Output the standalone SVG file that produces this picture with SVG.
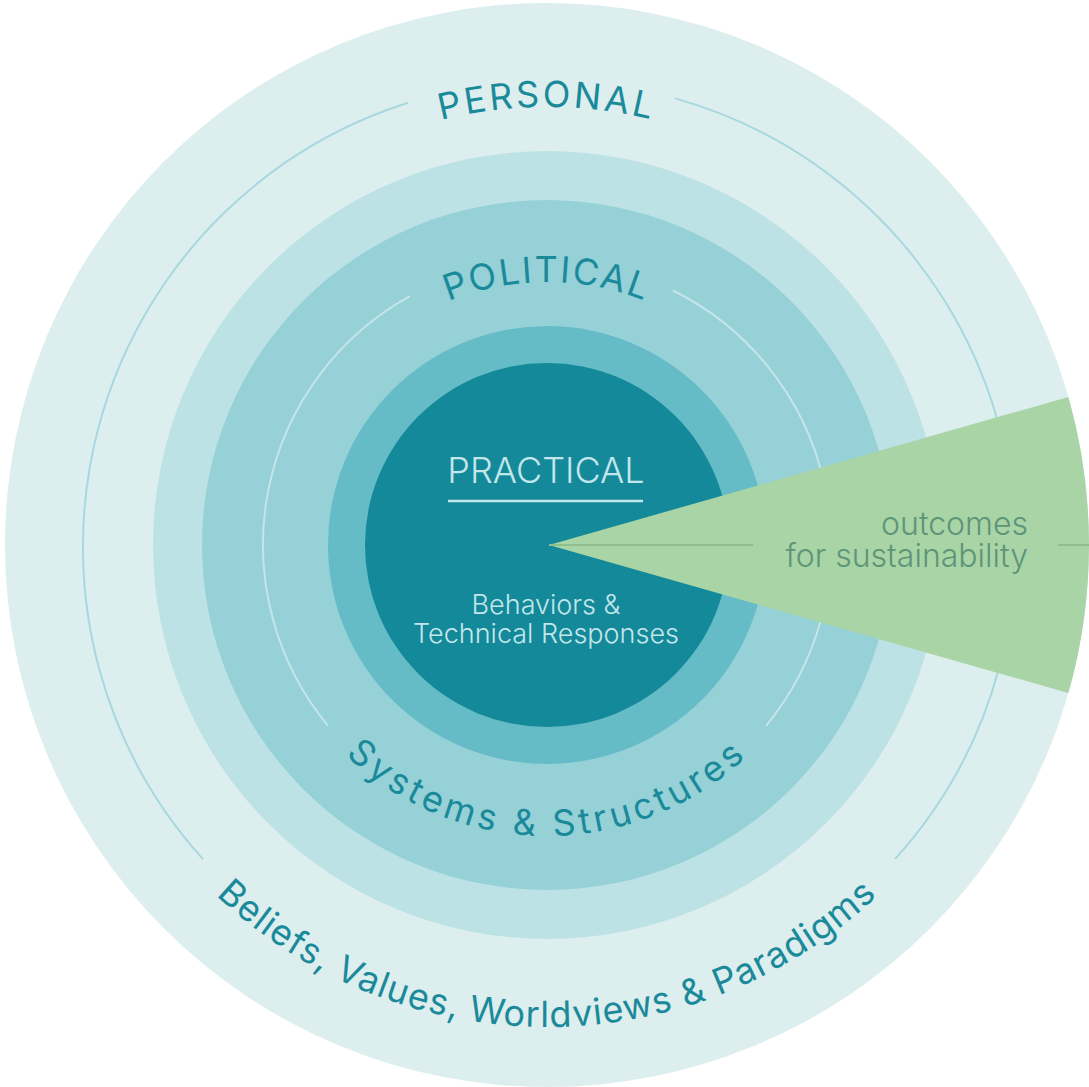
<svg xmlns="http://www.w3.org/2000/svg" width="1089" height="1087" viewBox="0 0 1089 1087">
  <style>
    .ring-label { font-family: Inter, "Liberation Sans", sans-serif; font-size: 36px; fill: #1a8a9b; }
    .light { font-family: Inter, "Liberation Sans", sans-serif; font-weight: 300; fill: #c3e6ea; }
    .outcome { font-family: Inter, "Liberation Sans", sans-serif; font-size: 32px; font-weight: 300; fill: #5e9479; }
    .guide-outer { fill: none; stroke: #a8d8df; stroke-width: 2; }
    .guide-inner { fill: none; stroke: #c4e5e9; stroke-width: 2; }
  </style>
  <defs>
    <path id="arc-personal" d="M109,545 A438,438 0 0 1 985,545"/>
    <path id="arc-political" d="M284,545 A263,263 0 0 1 810,545"/>
    <path id="arc-systems" d="M256,545 A291,291 0 0 0 838,545"/>
    <path id="arc-beliefs" d="M65,545 A482,482 0 0 0 1029,545"/>
  </defs>
  <rect width="1089" height="1087" fill="#ffffff"/>

  <g id="personal">
    <circle cx="547" cy="545" r="542" fill="#ddeeee"/>
  </g>
  <g id="political-outer">
    <circle cx="547" cy="545" r="394" fill="#bde2e6"/>
  </g>
  <g id="political">
    <circle cx="547" cy="545" r="345" fill="#95d1d7"/>
  </g>
  <g id="systems">
    <circle cx="547" cy="545" r="219" fill="#65bcc6"/>
  </g>
  <g id="practical">
    <circle cx="547" cy="545" r="182" fill="#14899a"/>
  </g>

  <g id="connectors">
    <path class="guide-outer" d="M408,102.8 A466,466 0 0 0 203,859.2"/>
    <path class="guide-outer" d="M675,98.4 A466,466 0 0 1 895,859.2"/>
    <path class="guide-inner" d="M410,296.2 A284,284 0 0 0 328,725.8"/>
    <path class="guide-inner" d="M673,290.5 A284,284 0 0 1 766,725.8"/>
  </g>

  <g id="outcomes">
    <path d="M549,545 L1068.4,397 A542,542 0 0 1 1068.4,693 Z" fill="#a8d4a6"/>
    <line x1="549" y1="545" x2="753" y2="545" stroke="#8fbf8d" stroke-width="2"/>
    <line x1="1058" y1="545" x2="1089" y2="545" stroke="#8fbf8d" stroke-width="2"/>
    <text class="outcome" x="1028" y="535" text-anchor="end">outcomes</text>
    <text class="outcome" x="1028" y="567" text-anchor="end">for sustainability</text>
  </g>

  <g id="labels">
    <text class="ring-label" letter-spacing="3"><textPath href="#arc-personal" startOffset="50%" text-anchor="middle">PERSONAL</textPath></text>
    <text class="ring-label" letter-spacing="2"><textPath href="#arc-political" startOffset="50%" text-anchor="middle">POLITICAL</textPath></text>
    <text class="ring-label" letter-spacing="4"><textPath href="#arc-systems" startOffset="50%" text-anchor="middle">Systems &amp; Structures</textPath></text>
    <text class="ring-label" font-size="40" letter-spacing="1"><textPath href="#arc-beliefs" startOffset="50%" text-anchor="middle">Beliefs, Values, Worldviews &amp; Paradigms</textPath></text>
    <text class="light" x="546" y="483" font-size="36" text-anchor="middle">PRACTICAL</text>
    <line x1="448" y1="501" x2="643" y2="501" stroke="#c3e6ea" stroke-width="2.5"/>
    <text class="light" x="546" y="614" font-size="27" text-anchor="middle">Behaviors &amp;</text>
    <text class="light" x="546" y="643" font-size="27" text-anchor="middle">Technical Responses</text>
  </g>
</svg>
